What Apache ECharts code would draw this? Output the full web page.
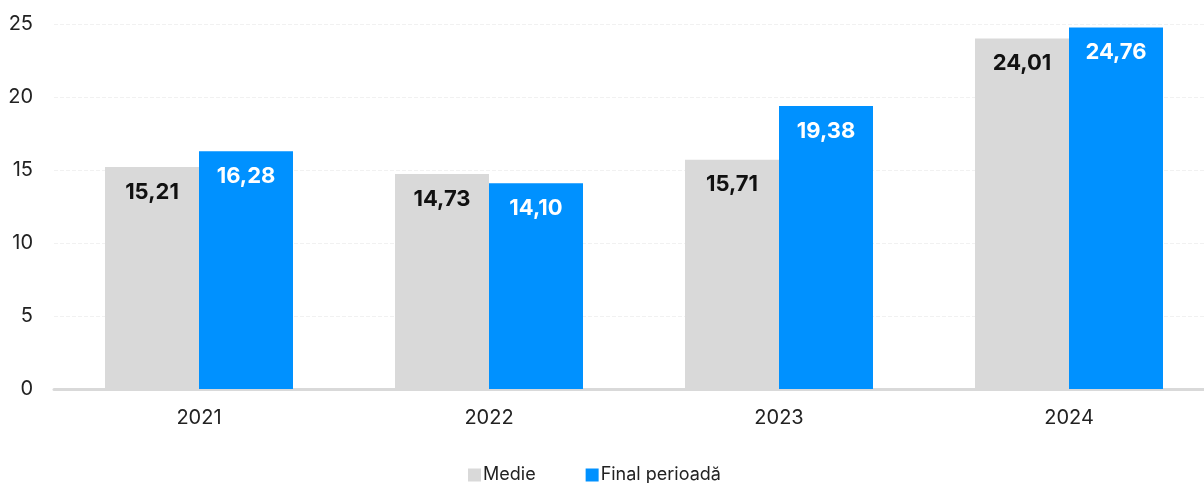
<!DOCTYPE html>
<html><head><meta charset="utf-8">
<script src="https://cdn.jsdelivr.net/npm/echarts@6/dist/echarts.min.js"></script>
<style>html,body{margin:0;padding:0;background:#fff;overflow:hidden}#c{width:1214px;height:483px}</style>
</head><body><div id="c"></div>
<script>
const categories = ['2021', '2022', '2023', '2024'];
const medie = [15.21, 14.73, 15.71, 24.01];
const finalPerioada = [16.28, 14.10, 19.38, 24.76];
const yTicks = [0, 5, 10, 15, 20, 25];

const fmt = p => p.value.toFixed(2).replace('.', ',');
const chart = echarts.init(document.getElementById('c'));
chart.setOption({
  animation: false,
  textStyle: { fontFamily: 'Inter' },
  grid: { left: 54, right: 0, top: 24, bottom: 94 },
  legend: {
    left: 463, top: 461, itemWidth: 13, itemHeight: 13, itemGap: 50, icon: 'rect',
    textStyle: { fontFamily: 'Inter', fontSize: 18, color: '#222', padding: [0, 0, 0, -3] },
    data: ['Medie', 'Final perioadă']
  },
  xAxis: {
    type: 'category', data: categories,
    axisTick: { show: false },
    axisLine: { lineStyle: { color: '#d9d9d9', width: 3 } },
    axisLabel: { fontFamily: 'Inter', fontSize: 20, color: '#222', margin: 19 }
  },
  yAxis: {
    type: 'value', min: yTicks[0], max: yTicks[yTicks.length - 1], interval: 5,
    axisLabel: { fontFamily: 'Inter', fontSize: 20, color: '#222', margin: 21 },
    splitLine: { lineStyle: { color: '#f1f1f1', type: 'dashed' } }
  },
  series: [
    { name: 'Medie', type: 'bar', data: medie, barWidth: 94, barGap: '0%',
      itemStyle: { color: '#d9d9d9' },
      label: { show: true, position: 'insideTop', distance: 14, formatter: fmt,
        fontFamily: 'Inter', fontSize: 22, fontWeight: 'bold', color: '#111' } },
    { name: 'Final perioadă', type: 'bar', data: finalPerioada, barWidth: 94,
      itemStyle: { color: '#0091ff' },
      label: { show: true, position: 'insideTop', distance: 14, formatter: fmt,
        fontFamily: 'Inter', fontSize: 22, fontWeight: 'bold', color: '#fff' } }
  ]
});
</script></body></html>
